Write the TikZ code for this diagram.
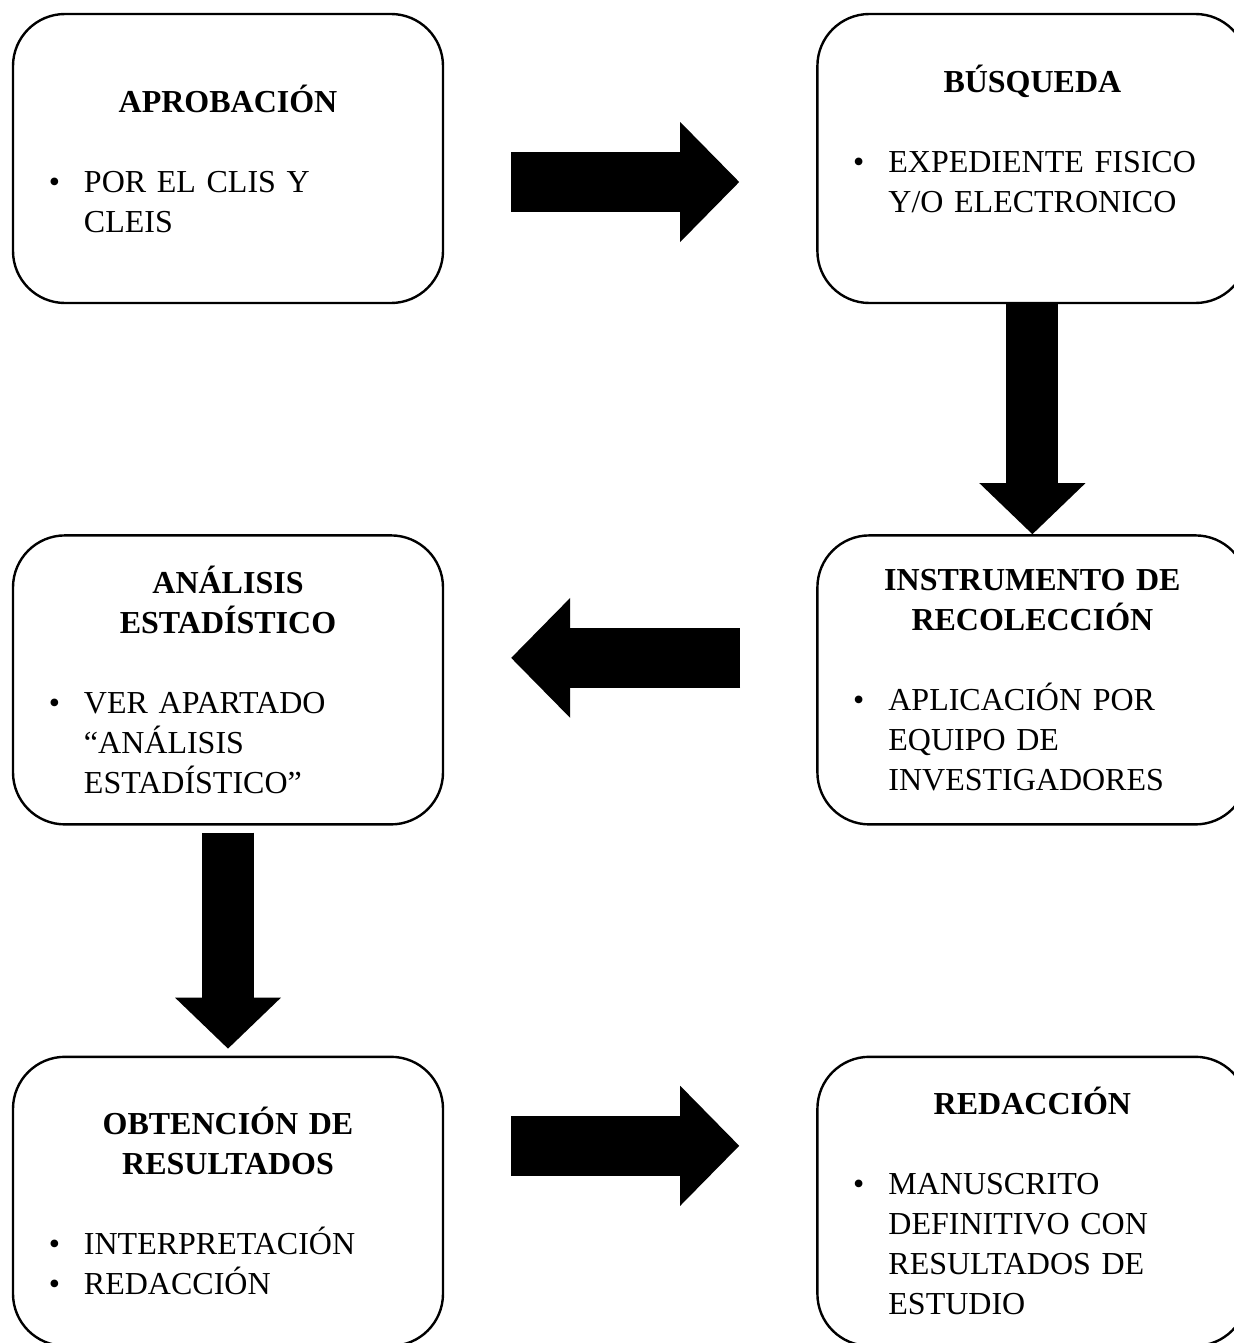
\documentclass[tikz,border=0pt]{standalone}
\usepackage{fontspec}
\setmainfont{Liberation Serif}
\usetikzlibrary{arrows.meta}
\usetikzlibrary{positioning}

\newcommand{\punto}[1]{\par{\raggedright\leftskip=35.5pt\parindent=0pt\noindent\llap{\textbullet\hspace{12pt}}#1\par}}
\newcommand{\titulo}[1]{{\centering\bfseries #1\par}\vspace{20pt}}

\tikzset{
	caja/.style={draw, line width=1.2pt, rounded corners=26pt, minimum width=215pt, minimum height=144.5pt,
		text width=215pt, inner sep=0pt, font=\fontsize{16pt}{20pt}\selectfont},
	flechah/.style={line width=30pt, -{Triangle[length=29.5pt, width=60pt, line width=0pt]}},
	flechav/.style={line width=26pt, -{Triangle[length=25.5pt, width=53pt, line width=0pt]}}
}

\begin{document}
\begin{tikzpicture}[x=0.5pt, y=-0.5pt]
\useasboundingbox (0,0) rectangle (1234,1343);

\node[caja] (aprob) at (228,158.5) {\titulo{APROBACIÓN}\punto{POR EL CLIS Y\\CLEIS}};
\node[caja, right=186pt of aprob] (busq) {\titulo{BÚSQUEDA}\punto{EXPEDIENTE FISICO\\Y/O ELECTRONICO}\mbox{}};
\node[caja, below=115pt of busq] (instr) {\titulo{INSTRUMENTO DE\\RECOLECCIÓN}\punto{APLICACIÓN POR\\EQUIPO DE\\INVESTIGADORES}};
\node[caja, left=186pt of instr] (analisis) {\titulo{ANÁLISIS\\ESTADÍSTICO}\punto{VER APARTADO\\“ANÁLISIS\\ESTADÍSTICO”}};
\node[caja, below=115pt of analisis] (obten) {\titulo{OBTENCIÓN DE\\RESULTADOS}\punto{INTERPRETACIÓN}\punto{REDACCIÓN}};
\node[caja, right=186pt of obten] (redac) {\titulo{REDACCIÓN}\punto{MANUSCRITO\\DEFINITIVO CON\\RESULTADOS DE\\ESTUDIO}};

\draw[flechah] ([shift={(67,23.5)}]aprob.east) -- ([shift={(-77,23.5)}]busq.west);
\draw[flechav] (busq.south) -- (instr.north);
\draw[flechah] ([shift={(-76,-22)}]instr.west) -- ([shift={(67,-22)}]analisis.east);
\draw[flechav] ([yshift=-3.5pt]analisis.south) -- ([yshift=3.5pt]obten.north);
\draw[flechah] ([shift={(67,-55.5)}]obten.east) -- ([shift={(-77,-55.5)}]redac.west);

\end{tikzpicture}
\end{document}
